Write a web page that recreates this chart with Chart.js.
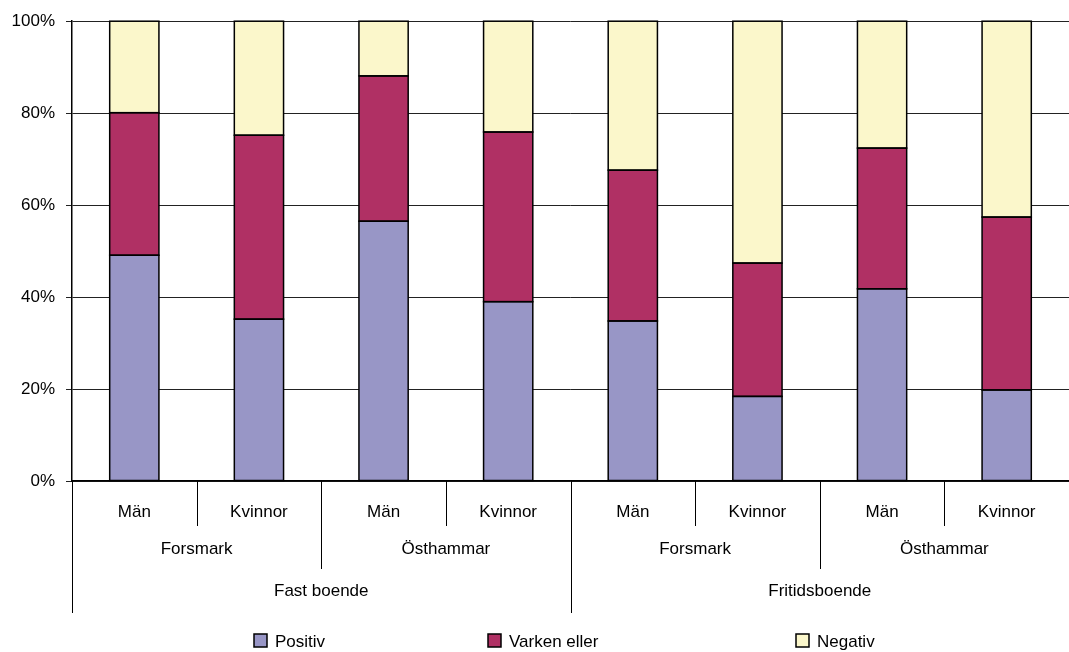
<!DOCTYPE html>
<html>
<head>
<meta charset="utf-8">
<script src="https://cdn.jsdelivr.net/npm/chart.js@4"></script>
<style>
  body { margin: 0; background: #fff; }
  #wrap { width: 1069px; height: 652px; }
</style>
</head>
<body>
<div id="wrap"><canvas id="myChart" width="1069" height="652"></canvas></div>
<script>
var categories = ['Män', 'Kvinnor', 'Män', 'Kvinnor', 'Män', 'Kvinnor', 'Män', 'Kvinnor'];
var sites = ['Forsmark', 'Östhammar', 'Forsmark', 'Östhammar'];
var residence = ['Fast boende', 'Fritidsboende'];
var positiv = [49.1, 35.2, 56.5, 39.0, 34.8, 18.4, 41.8, 19.8];
var varken = [31.0, 40.0, 31.6, 36.9, 32.8, 29.0, 30.6, 37.6];
var negativ = [19.9, 24.8, 11.9, 24.1, 32.4, 52.6, 27.6, 42.6];
var seriesNames = ['Positiv', 'Varken eller', 'Negativ'];
var seriesColors = ['#9896c6', '#b03064', '#fbf7cb'];

var FONT = '"Liberation Sans", Arial, sans-serif';

// outline every bar segment with one even black line
var outlinePlugin = {
    id: 'outline',
    afterDatasetsDraw: function(chart) {
        var ctx = chart.ctx;
        ctx.save();
        ctx.strokeStyle = '#000';
        ctx.lineWidth = 1.5;
        chart.data.datasets.forEach(function(ds, k) {
            chart.getDatasetMeta(k).data.forEach(function(bar) {
                var p = bar.getProps(['x', 'y', 'base', 'width'], true);
                ctx.strokeRect(p.x - p.width / 2, p.y, p.width, p.base - p.y);
            });
        });
        ctx.restore();
    }
};

// draws the extra category levels, the separators and the legend
var groupAxisPlugin = {
    id: 'groupAxis',
    afterDraw: function(chart) {
        var ctx = chart.ctx;
        var x = chart.scales.x;
        var n = categories.length;
        var half = (x.getPixelForValue(1) - x.getPixelForValue(0)) / 2;
        var top = x.top;

        ctx.save();
        ctx.strokeStyle = '#000';
        ctx.lineWidth = 1;
        for (var i = 0; i <= n; i++) {
            var px = i < n ? x.getPixelForValue(i) - half : x.getPixelForValue(n - 1) + half;
            var len = 45;
            if (i % 4 === 0) len = 132;
            else if (i % 2 === 0) len = 88;
            px = Math.round(px) + 0.5;
            ctx.beginPath();
            ctx.moveTo(px, top);
            ctx.lineTo(px, top + len);
            ctx.stroke();
        }

        ctx.fillStyle = '#000';
        ctx.font = '17px ' + FONT;
        ctx.textAlign = 'center';
        ctx.textBaseline = 'middle';
        sites.forEach(function(s, k) {
            var cx = (x.getPixelForValue(k * 2) + x.getPixelForValue(k * 2 + 1)) / 2;
            ctx.fillText(s, cx, top + 68);
        });
        residence.forEach(function(s, k) {
            var cx = (x.getPixelForValue(k * 4 + 1) + x.getPixelForValue(k * 4 + 2)) / 2;
            ctx.fillText(s, cx, top + 110);
        });

        // legend
        var legendX = [254, 488, 796];
        var ly = 641;
        ctx.textAlign = 'left';
        chart.data.datasets.forEach(function(ds, k) {
            ctx.fillStyle = ds.backgroundColor;
            ctx.fillRect(legendX[k], ly - 7, 13, 13);
            ctx.strokeStyle = '#000';
            ctx.lineWidth = 1.5;
            ctx.strokeRect(legendX[k], ly - 7, 13, 13);
            ctx.fillStyle = '#000';
            ctx.fillText(ds.label, legendX[k] + 21, ly + 1);
        });
        ctx.restore();
    }
};

var ctx = document.getElementById('myChart').getContext('2d');
var myChart = new Chart(ctx, {
    type: 'bar',
    data: {
        labels: categories,
        datasets: [positiv, varken, negativ].map(function(d, k) {
            return {
                label: seriesNames[k],
                data: d,
                backgroundColor: seriesColors[k],
                borderWidth: 0,
                inflateAmount: 0,
                barPercentage: 0.395,
                categoryPercentage: 1.0
            };
        })
    },
    options: {
        responsive: false,
        animation: false,
        devicePixelRatio: 1,
        layout: { padding: { top: 21, left: 0, right: 0, bottom: 0 } },
        plugins: {
            legend: { display: false },
            tooltip: { enabled: false }
        },
        scales: {
            x: {
                stacked: true,
                grid: { display: false },
                border: { color: '#000', width: 1.5 },
                ticks: {
                    color: '#000',
                    font: { family: FONT, size: 17 },
                    padding: 13,
                    maxRotation: 0
                },
                afterFit: function(scale) { scale.height = 171; }
            },
            y: {
                stacked: true,
                min: 0,
                max: 100,
                grid: { color: '#222', lineWidth: 1, tickLength: 6 },
                border: { color: '#000', width: 1.5 },
                ticks: {
                    stepSize: 20,
                    color: '#000',
                    padding: 11,
                    font: { family: FONT, size: 17 },
                    callback: function(v) { return v + '%'; }
                },
                afterFit: function(scale) { scale.width = 72; }
            }
        }
    },
    plugins: [outlinePlugin, groupAxisPlugin]
});
</script>
</body>
</html>
